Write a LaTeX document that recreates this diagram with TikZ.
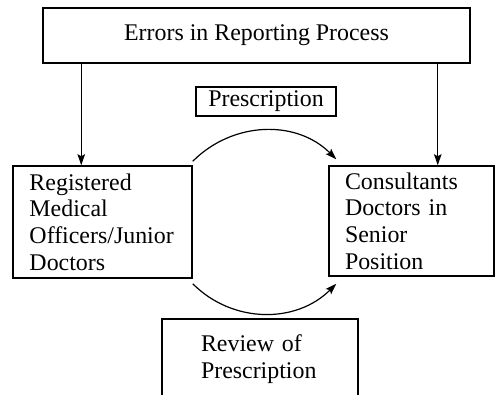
\documentclass[tikz,border=0pt]{standalone}
\usepackage{fontspec}
\setmainfont{Liberation Serif}
\usetikzlibrary{arrows.meta,calc}
\begin{document}
\begin{tikzpicture}[x=1bp,y=-1bp,
  box/.style={draw, line width=1.5bp, inner sep=0pt, font=\fontsize{23.9bp}{26.7bp}\selectfont},
  arr/.style={line width=1.2bp, -{Stealth[length=11bp,width=7.5bp,inset=2bp]}}]
\useasboundingbox (0,0) rectangle (496,394);
\begin{scope}
\clip (0,0) rectangle (496,394);
\node[box, minimum width=427bp, minimum height=55bp] (top) at (256.5,35.5) {Errors in Reporting Process};
\node[box, minimum width=140bp, minimum height=29bp] (presc) at (266,101.5) {Prescription};
\node[box, align=left, text width=146bp, inner xsep=16.5bp, minimum height=112bp] (reg) at (102.5,222) {Registered\\Medical\\Officers/Junior\\Doctors};
\node[box, align=left, text width=133bp, inner xsep=16bp, minimum height=110bp] (cons) at (411.5,221) {Consultants\\Doctors in\\Senior\\Position};
\node[box, align=left, text width=118bp, inner xsep=39bp, minimum height=80bp] (rev) at (260,359) {Review of\\Prescription};
\coordinate (la) at ($(top.south west)+(39,0)$);
\coordinate (ra) at ($(top.south east)+(-33,0)$);
\draw[arr] (la) -- (la |- reg.north);
\draw[arr] (ra) -- (ra |- cons.north);
\coordinate (s1) at ($(reg.north east)+(0,-4)$);
\coordinate (e1) at ($(cons.north west)+(8,-6)$);
\coordinate (s2) at ($(reg.south east)+(0,5)$);
\coordinate (e2) at ($(cons.south west)+(8,7)$);
\draw[arr] (s1) .. controls +(40,-40) and +(-40,-40) .. (e1);
\draw[arr] (s2) .. controls +(40,40) and +(-40,40) .. (e2);
\end{scope}
\end{tikzpicture}
\end{document}
